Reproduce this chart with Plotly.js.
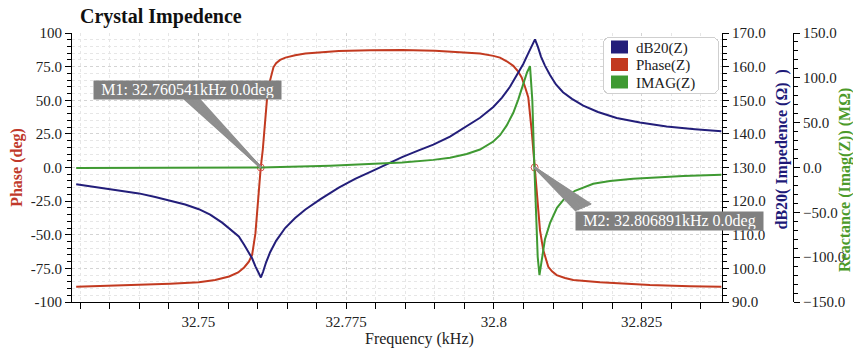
<!DOCTYPE html>
<html>
<head>
<meta charset="utf-8">
<script src="https://cdn.plot.ly/plotly-3.0.1.min.js"></script>
<style>html,body{margin:0;padding:0;background:#fff;}#chart{width:853px;height:348px;}</style>
</head>
<body>
<div id="chart"></div>
<script>
// ---- data ----
const freqPhase = [32.72931, 32.73929, 32.74521, 32.75007, 32.75282, 32.75519, 32.75672, 32.75773, 32.75853, 32.75908, 32.75964, 32.75988, 32.76010, 32.760541, 32.76088, 32.76116, 32.76162, 32.76196, 32.76230, 32.76269, 32.76314, 32.76382, 32.76472, 32.76636, 32.76810, 32.77059, 32.77375, 32.77904, 32.78446, 32.79004, 32.79540, 32.79765, 32.79990, 32.80103, 32.80217, 32.80328, 32.80408, 32.80470, 32.80526, 32.80582, 32.80639, 32.806891, 32.80724, 32.80780, 32.80836, 32.80920, 32.80983, 32.81062, 32.81203, 32.81343, 32.81795, 32.82640, 32.83317, 32.83850];
const phase = [-88.7, -87.4, -86.4, -85.4, -83.7, -81.0, -78.0, -74.3, -70.0, -65.0, -49.0, -36.0, -22.0, 0.0, 13.0, 27.0, 52.0, 62.0, 69.0, 74.5, 77.5, 80.0, 81.7, 83.5, 84.7, 85.8, 86.7, 87.2, 87.4, 86.8, 85.7, 84.7, 83.0, 81.7, 79.0, 75.6, 71.5, 66.9, 60.0, 52.0, 27.4, 0.0, -22.0, -46.7, -61.5, -73.8, -77.2, -80.0, -82.2, -83.7, -85.3, -87.4, -88.2, -88.7];

const freqDb = [32.72931, 32.73168, 32.73427, 32.73676, 32.73992, 32.74268, 32.74555, 32.74775, 32.75007, 32.75198, 32.75401, 32.75536, 32.75683, 32.75773, 32.75853, 32.75908, 32.75964, 32.75993, 32.76057, 32.76094, 32.76145, 32.76213, 32.76314, 32.76467, 32.76636, 32.76810, 32.77059, 32.77375, 32.77651, 32.77938, 32.78192, 32.78446, 32.78716, 32.78975, 32.79257, 32.79540, 32.79765, 32.79990, 32.80137, 32.80272, 32.80391, 32.80497, 32.80577, 32.80639, 32.80695, 32.80746, 32.80797, 32.80864, 32.80949, 32.81050, 32.81169, 32.81321, 32.81512, 32.81761, 32.82077, 32.82471, 32.82923, 32.83402, 32.83850];
const db = [125.0, 124.4, 123.7, 123.0, 122.3, 121.2, 120.0, 119.0, 117.6, 116.0, 113.6, 111.5, 109.5, 107.0, 104.8, 103.0, 100.6, 99.4, 97.3, 99.0, 101.8, 104.8, 108.2, 112.0, 115.0, 117.5, 120.5, 124.0, 126.6, 128.9, 131.0, 133.1, 135.0, 136.8, 139.2, 142.2, 144.8, 148.0, 150.8, 154.0, 157.5, 160.8, 163.8, 166.2, 168.1, 165.8, 163.0, 160.3, 157.5, 154.7, 152.4, 150.4, 148.4, 146.5, 144.7, 143.4, 142.2, 141.4, 140.8];

const freqImag = [32.72931, 32.75029, 32.760541, 32.77228, 32.78446, 32.78975, 32.79257, 32.79540, 32.79765, 32.79990, 32.80103, 32.80217, 32.80328, 32.80413, 32.80497, 32.80560, 32.80611, 32.80650, 32.80683, 32.80712, 32.80741, 32.80771, 32.80809, 32.80864, 32.80949, 32.81067, 32.81203, 32.81372, 32.81681, 32.81964, 32.82358, 32.82810, 32.83204, 32.83850];
const imag = [-0.5, -0.3, 0.0, 2.0, 5.5, 8.5, 11.0, 15.0, 20.0, 29.0, 36.0, 47.0, 61.0, 76.0, 93.0, 106.0, 113.0, 75.0, 4.0, -51.5, -99.6, -120.0, -103.0, -80.0, -62.0, -45.0, -34.0, -26.0, -18.1, -15.0, -12.6, -10.8, -9.6, -8.1];

const markerNames = ['M1', 'M2'];
const markerFreq = [32.760541, 32.806891];
const markerPhase = [0.0, 0.0];

const seriesNames = ['dB20(Z)', 'Phase(Z)', 'IMAG(Z)'];

const xTickVals = [32.75, 32.775, 32.8, 32.825];
const xTickText = ['32.75', '32.775', '32.8', '32.825'];
const phaseTickVals = [-100, -75, -50, -25, 0, 25, 50, 75, 100];
const phaseTickText = ['-100', '-75.0', '-50.0', '-25.0', '0.0', '25.0', '50.0', '75.0', '100'];

// ---- styling ----
const C_DB = '#231e7a', C_PH = '#c23a20', C_IM = '#3f9a32';
const FONT = 'Liberation Serif, Times New Roman, serif';

function swatch(name, color) {
  // zero-height bar: draws nothing in the plot, gives a square legend swatch
  return {type: 'bar', x: [freqDb[0]], y: [0], name: name, marker: {color: color, line: {width: 0}},
          showlegend: true, hoverinfo: 'skip'};
}

const traces = [
  swatch(seriesNames[0], C_DB),
  swatch(seriesNames[1], C_PH),
  swatch(seriesNames[2], C_IM),
  {type: 'scatter', mode: 'lines', x: freqPhase, y: phase, yaxis: 'y', line: {color: C_PH, width: 2}, showlegend: false, hoverinfo: 'skip'},
  {type: 'scatter', mode: 'lines', x: freqDb, y: db, yaxis: 'y2', line: {color: C_DB, width: 2}, showlegend: false, hoverinfo: 'skip'},
  {type: 'scatter', mode: 'lines', x: freqImag, y: imag, yaxis: 'y3', line: {color: C_IM, width: 2}, showlegend: false, hoverinfo: 'skip'},
  {type: 'scatter', mode: 'markers', x: markerFreq, y: markerPhase, yaxis: 'y', marker: {symbol: 'circle-open', size: 7, color: '#d9534f', line: {width: 1}}, showlegend: false, hoverinfo: 'skip'}
];

const gridCol = '#d4d4d4';
const minorGridCol = '#e6e6e6';

// callout wedges: a dense fan of arrows from the tip back to the label box
const wedgeColor = '#8f8f8f';
function wedge(i, from, to, n) {
  const out = [];
  for (let k = 0; k < n; k++) {
    const t = k / (n - 1);
    out.push({text: ' ', x: markerFreq[i], y: markerPhase[i], xref: 'x', yref: 'y', showarrow: true, arrowhead: 0,
              arrowwidth: 2, arrowcolor: wedgeColor, ax: from[0] + t * (to[0] - from[0]), ay: from[1] + t * (to[1] - from[1]),
              font: {size: 1}, standoff: 0});
  }
  return out;
}
const wedgeM1 = wedge(0, [-78, -70], [-63, -70], 11);
const wedgeM2 = wedge(1, [43, 45], [58, 38], 11);

function markerLabel(i, dx, dy) {
  return {text: markerNames[i] + ': ' + markerFreq[i].toFixed(6) + 'kHz ' + markerPhase[i].toFixed(1) + 'deg',
          x: markerFreq[i], y: markerPhase[i], xref: 'x', yref: 'y', showarrow: false, xshift: dx, yshift: dy,
          bgcolor: '#808080', font: {family: FONT, size: 16, color: '#ffffff'}, width: 185, height: 16, borderpad: 1};
}

const layout = {
  width: 853, height: 348,
  margin: {l: 72, r: 60, t: 33, b: 46},
  paper_bgcolor: '#ffffff', plot_bgcolor: '#ffffff',
  font: {family: FONT, size: 15, color: '#222'},
  title: {text: '<b>Crystal Impedence</b>', font: {family: FONT, size: 20, color: '#111'},
          xref: 'container', x: 80 / 853, xanchor: 'left', yref: 'container', y: 1 - 16 / 348, yanchor: 'middle'},
  showlegend: true,
  legend: {x: (603 - 72) / 721, y: (302 - 37) / 269, xanchor: 'left', yanchor: 'top', bgcolor: '#ffffff', bordercolor: '#cfcfcf', borderwidth: 1,
           font: {family: FONT, size: 15, color: '#222'}, tracegroupgap: 0, itemwidth: 30},
  xaxis: {
    domain: [0, 650 / 721], range: [32.7286, 32.8386], autorange: false,
    tickvals: xTickVals, ticktext: xTickText,
    showline: true, linecolor: '#000', linewidth: 1, mirror: false,
    ticks: 'outside', ticklen: 6, tickcolor: '#000',
    showgrid: true, gridcolor: gridCol, griddash: 'dot', zeroline: false,
    tickfont: {family: FONT, size: 15, color: '#222'},
    minor: {tick0: 32.75, dtick: 0.005, ticks: 'outside', ticklen: 6, tickcolor: '#000', showgrid: true, gridcolor: minorGridCol, griddash: 'dot'}
  },
  yaxis: {
    range: [-100, 100], autorange: false,
    tickvals: phaseTickVals, ticktext: phaseTickText,
    showline: true, linecolor: '#000', linewidth: 1,
    ticks: 'outside', ticklen: 6, tickcolor: '#000',
    showgrid: true, gridcolor: gridCol, griddash: 'dot', zeroline: false,
    tickfont: {family: FONT, size: 15, color: '#222'},
    minor: {tick0: 0, dtick: 5, ticks: 'outside', ticklen: 4, tickcolor: '#000', showgrid: true, gridcolor: minorGridCol, griddash: 'dot'},
    title: {text: '<b>Phase (deg)</b>', font: {family: FONT, size: 16, color: '#c0392b'}, standoff: 4}
  },
  yaxis2: {
    overlaying: 'y', side: 'right', anchor: 'x',
    range: [90, 170], autorange: false, tick0: 90, dtick: 10, tickformat: '.1f',
    showline: true, linecolor: '#000', linewidth: 1,
    ticks: 'outside', ticklen: 6, tickcolor: '#000',
    showgrid: false, zeroline: false,
    tickfont: {family: FONT, size: 15, color: '#222'},
    minor: {tick0: 90, dtick: 2, ticks: 'outside', ticklen: 4, tickcolor: '#000', showgrid: false}
  },
  yaxis3: {
    overlaying: 'y', side: 'right', anchor: 'free', position: 1,
    range: [-150, 150], autorange: false, tick0: 0, dtick: 50, tickformat: '.1f',
    showline: true, linecolor: '#000', linewidth: 1,
    ticks: 'outside', ticklen: 6, tickcolor: '#000',
    showgrid: false, zeroline: false,
    tickfont: {family: FONT, size: 15, color: '#222'},
    minor: {tick0: 0, dtick: 10, ticks: 'outside', ticklen: 4, tickcolor: '#000', showgrid: false}
  },
  annotations: [
    {text: 'Frequency (kHz)', xref: 'paper', yref: 'paper', x: (419 - 72) / 721, y: (302 - 339) / 269,
     xanchor: 'center', yanchor: 'middle', showarrow: false, font: {family: FONT, size: 16, color: '#222'}},
    {text: '<b>dB20( Impedence (\u03A9)\u00a0\u00a0)</b>', xref: 'paper', yref: 'paper', x: (781.5 - 72) / 721, y: (302 - 150) / 269,
     xanchor: 'center', yanchor: 'middle', textangle: -90, showarrow: false, font: {family: FONT, size: 16, color: '#1e1a78'}},
    {text: '<b>Reactance (Imag(Z)) (M\u03A9)</b>', xref: 'paper', yref: 'paper', x: (845 - 72) / 721, y: (302 - 180) / 269,
     xanchor: 'center', yanchor: 'middle', textangle: -90, showarrow: false, font: {family: FONT, size: 16, color: '#4c9a2a'}}
  ].concat(wedgeM1, wedgeM2, [markerLabel(0, -73.5, 77.7), markerLabel(1, 135, -53.7)])
};

Plotly.newPlot('chart', traces, layout, {displayModeBar: false, staticPlot: true}).then(function (gd) {
  // tighten the legend to the compact look of the reference (short rows, wide square swatches, rounded box)
  const leg = gd.querySelector('.legend');
  if (!leg) return;
  const items = leg.querySelectorAll('g.traces');
  items.forEach(function (g, i) {
    g.setAttribute('transform', 'translate(1,' + (10 + i * 17.5) + ')');
    const txt = g.querySelector('text.legendtext');
    if (txt) txt.setAttribute('x', 32);
    g.querySelectorAll('.legendpoints path').forEach(function (p) {
      p.setAttribute('transform', 'translate(0,0)');
      p.setAttribute('d', 'M7,-6.5h17v13h-17Z');
    });
  });
  const bg = leg.querySelector('rect.bg');
  if (bg) {
    bg.setAttribute('height', 56);
    bg.setAttribute('width', 115);
    bg.setAttribute('rx', 6);
    bg.setAttribute('ry', 6);
  }
});
</script>
</body>
</html>
